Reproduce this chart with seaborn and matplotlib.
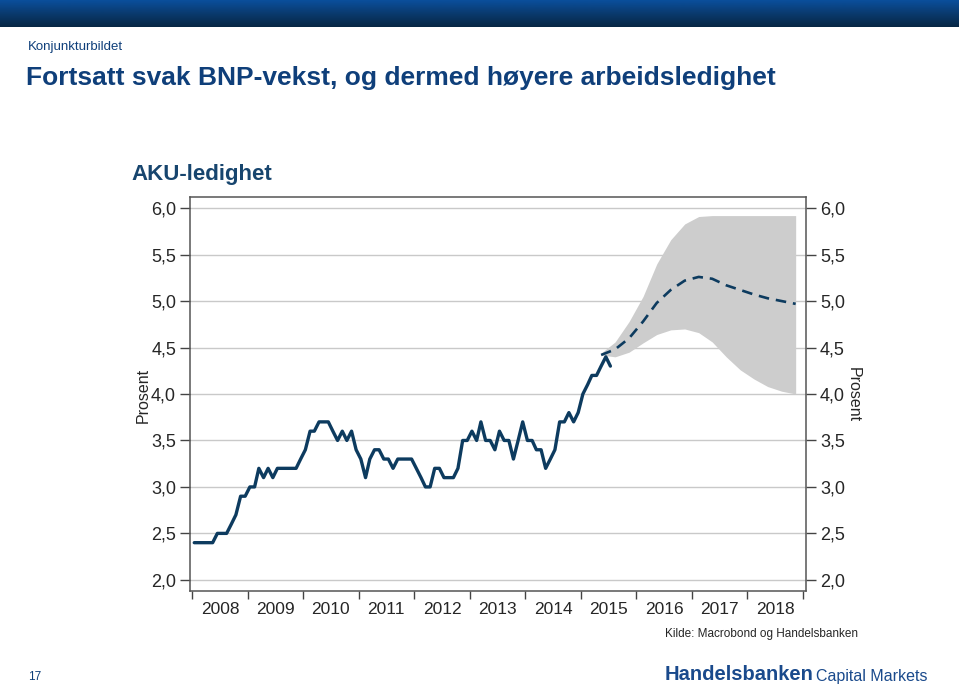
import matplotlib
matplotlib.use("Agg")
import matplotlib.pyplot as plt
import matplotlib.dates as mdates
from matplotlib.ticker import FuncFormatter, FixedLocator
import numpy as np
import pandas as pd
import seaborn as sns

# AKU unemployment, monthly, Jan 2008 - Jul 2015 (percent)
aku_values = [
    2.4, 2.4, 2.4, 2.4, 2.4, 2.5, 2.5, 2.5, 2.6, 2.7, 2.9, 2.9,  # 2008
    3.0, 3.0, 3.2, 3.1, 3.2, 3.1, 3.2, 3.2, 3.2, 3.2, 3.2, 3.3,  # 2009
    3.4, 3.6, 3.6, 3.7, 3.7, 3.7, 3.6, 3.5, 3.6, 3.5, 3.6, 3.4,  # 2010
    3.3, 3.1, 3.3, 3.4, 3.4, 3.3, 3.3, 3.2, 3.3, 3.3, 3.3, 3.3,  # 2011
    3.2, 3.1, 3.0, 3.0, 3.2, 3.2, 3.1, 3.1, 3.1, 3.2, 3.5, 3.5,  # 2012
    3.6, 3.5, 3.7, 3.5, 3.5, 3.4, 3.6, 3.5, 3.5, 3.3, 3.5, 3.7,  # 2013
    3.5, 3.5, 3.4, 3.4, 3.2, 3.3, 3.4, 3.7, 3.7, 3.8, 3.7, 3.8,  # 2014
    4.0, 4.1, 4.2, 4.2, 4.3, 4.4, 4.3,                           # 2015
]
aku_start = "2008-01-01"

# forecast, quarterly from mid 2015
forecast_start = "2015-05-01"
forecast_values = [4.42, 4.48, 4.60, 4.78, 4.98, 5.12, 5.22, 5.26,
                   5.24, 5.17, 5.12, 5.07, 5.03, 5.00, 4.97]
band_upper = [4.44, 4.56, 4.78, 5.05, 5.40, 5.66, 5.83, 5.91,
              5.92, 5.92, 5.92, 5.92, 5.92, 5.92, 5.92]
band_lower = [4.42, 4.40, 4.45, 4.55, 4.64, 4.69, 4.70, 4.66,
              4.56, 4.40, 4.26, 4.16, 4.08, 4.03, 4.00]

year_labels = ["2008", "2009", "2010", "2011", "2012", "2013",
               "2014", "2015", "2016", "2017", "2018"]

LINE = "#0d3b5f"
DARKBLUE = "#0f3f7a"

sns.set_style("white")
plt.rcParams["font.family"] = ["Liberation Sans", "DejaVu Sans"]

hist = pd.DataFrame({
    "date": pd.date_range(aku_start, periods=len(aku_values), freq="MS") + pd.Timedelta(days=14),
    "value": aku_values,
})
fc = pd.DataFrame({
    "date": pd.date_range(forecast_start, periods=len(forecast_values), freq="3MS") + pd.Timedelta(days=14),
    "value": forecast_values,
    "upper": band_upper,
    "lower": band_lower,
})

W, H = 959, 686
fig = plt.figure(figsize=(W / 100, H / 100), dpi=100)

# top banner with gradient
bar = fig.add_axes([0, 1 - 27 / H, 1, 27 / H])
grad = np.linspace(0, 1, 64).reshape(-1, 1)
cmap = matplotlib.colors.LinearSegmentedColormap.from_list("bar", ["#0a4f9c", "#0a3a6e", "#072744"])
bar.imshow(grad, aspect="auto", cmap=cmap, extent=[0, 1, 0, 1])
bar.set_axis_off()

fig.text(28 / W, 1 - 47 / H, "Konjunkturbildet", fontsize=9.5, color=DARKBLUE, va="center")
fig.text(26 / W, 1 - 78 / H, "Fortsatt svak BNP-vekst, og dermed høyere arbeidsledighet",
         fontsize=19, fontweight="bold", color=DARKBLUE, va="center")
fig.text(131 / W, 1 - 175 / H, "AKU-ledighet", fontsize=16, fontweight="bold",
         color="#17456e", va="center")

ax = fig.add_axes([190 / W, 1 - 591 / H, (806 - 190) / W, (591 - 197) / H])

ax.fill_between(fc["date"], fc["lower"], fc["upper"], color="#cdcdcd", lw=0, zorder=1)
sns.lineplot(data=hist, x="date", y="value", ax=ax, color=LINE, lw=2.4, zorder=3)
sns.lineplot(data=fc, x="date", y="value", ax=ax, color=LINE, lw=1.9,
             linestyle=(0, (4, 2.6)), zorder=3)

ax.set_xlim(pd.Timestamp("2007-12-18"), pd.Timestamp("2019-01-22"))
ax.set_ylim(1.88, 6.12)
yt = np.arange(2.0, 6.01, 0.5)
ax.yaxis.set_major_locator(FixedLocator(yt))
ax.yaxis.set_major_formatter(FuncFormatter(lambda v, p: f"{v:.1f}".replace(".", ",")))
ax.grid(axis="y", color="#c9c9c9", lw=1)
ax.grid(axis="x", visible=False)
ax.tick_params(axis="y", which="major", left=True, right=True, labelleft=True, labelright=True,
               length=7, width=1, color="#444444", labelsize=13, pad=3, direction="out")

ax.xaxis.set_major_locator(mdates.YearLocator())
ax.xaxis.set_major_formatter(plt.NullFormatter())
ax.xaxis.set_minor_locator(FixedLocator([mdates.date2num(pd.Timestamp(f"{y}-07-02")) for y in year_labels]))
ax.xaxis.set_minor_formatter(FuncFormatter(lambda v, p: year_labels[p] if p is not None and p < len(year_labels) else mdates.num2date(v).strftime("%Y")))
ax.tick_params(axis="x", which="major", bottom=True, length=6, width=1, color="#444444", direction="out")
ax.tick_params(axis="x", which="minor", bottom=True, length=0, labelsize=12.5, pad=8)

for s in ax.spines.values():
    s.set_visible(True)
    s.set_color("#555555")
    s.set_linewidth(1.1)

ax.set_xlabel("")
ax.set_ylabel("")
fig.text(143 / W, 1 - 395 / H, "Prosent", rotation=90, fontsize=11.5, va="center", ha="center")
fig.text(853 / W, 1 - 395 / H, "Prosent", rotation=270, fontsize=11.5, va="center", ha="center")

fig.text(858 / W, 1 - 634 / H, "Kilde: Macrobond og Handelsbanken", fontsize=8.5,
         ha="right", va="center")
fig.text(28 / W, 1 - 677 / H, "17", fontsize=8.5, color=DARKBLUE, va="center")
fig.text(665 / W, 1 - 675 / H, "Handelsbanken", fontsize=14.5, fontweight="bold",
         color="#1a4a8c", va="center")
fig.text(928 / W, 1 - 676 / H, "Capital Markets", fontsize=11.5, color="#1a4a8c",
         va="center", ha="right")

fig.savefig("out.png", dpi=100)
